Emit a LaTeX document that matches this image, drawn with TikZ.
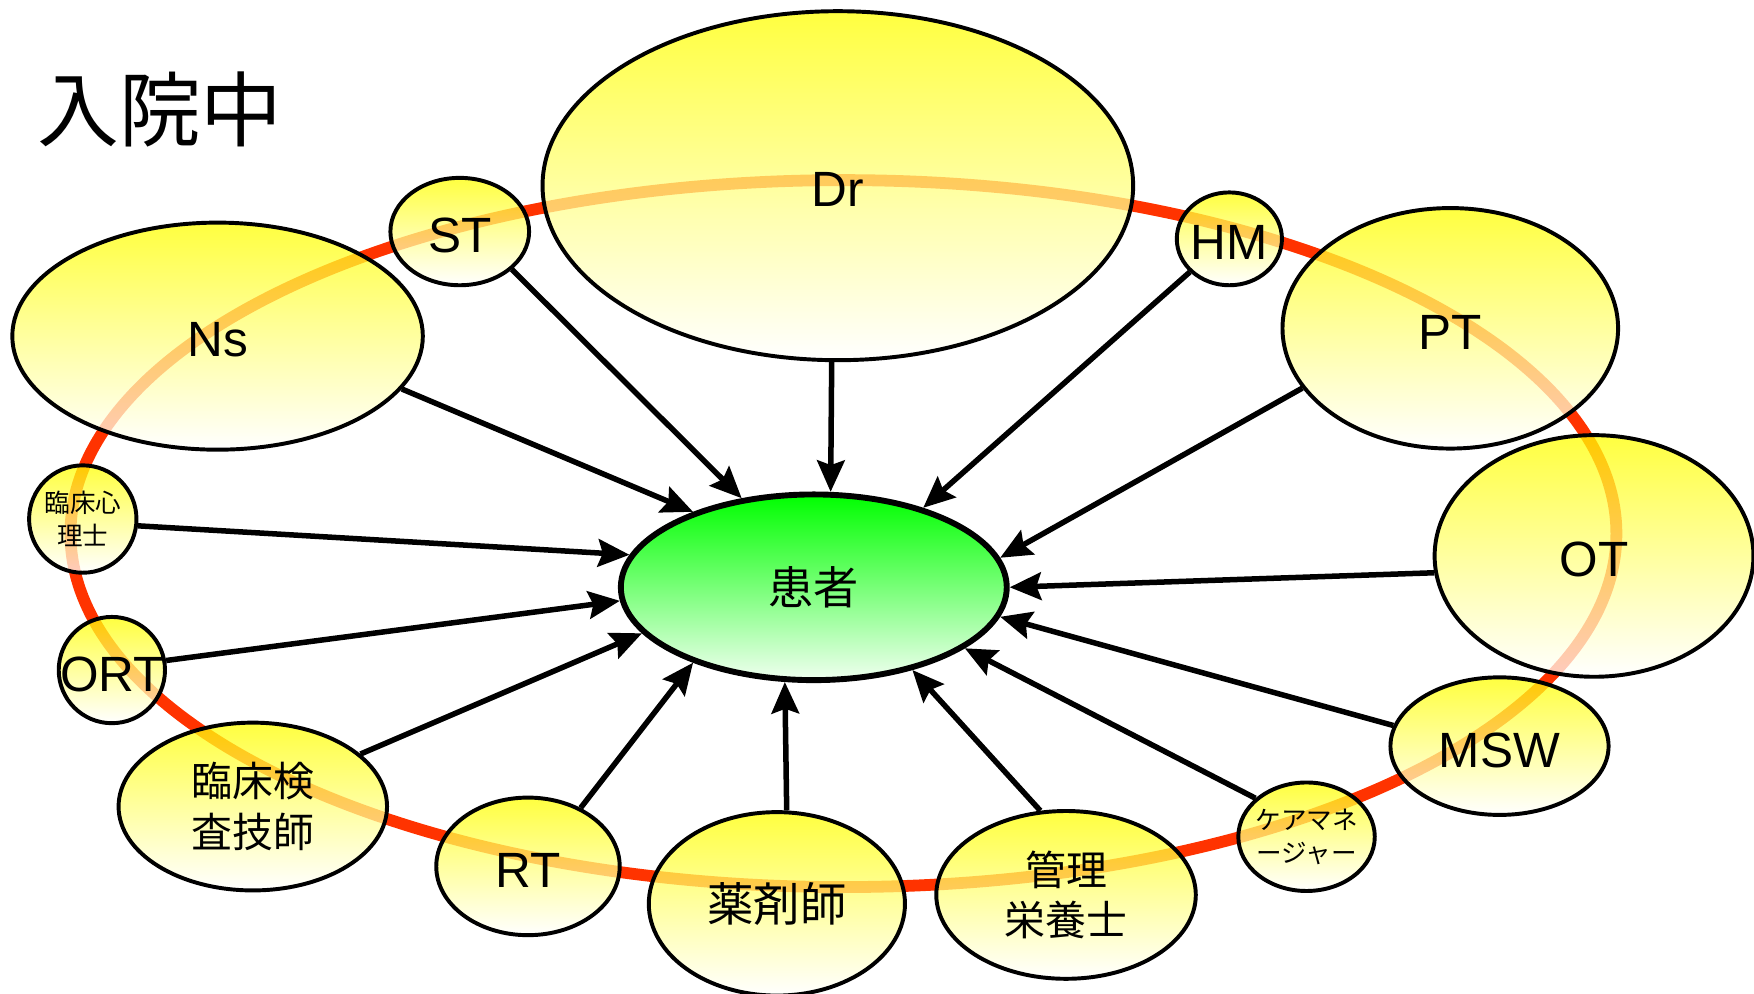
\documentclass[tikz,border=0pt]{standalone}
\usepackage{fontspec}
\setmainfont{Liberation Sans}
\newfontfamily\jpfont{Noto Sans CJK JP}
\usetikzlibrary{shapes.geometric,arrows.meta}

\definecolor{ringred}{RGB}{255,51,0}
\definecolor{kanjagreen}{RGB}{0,255,0}
\definecolor{kanjalight}{RGB}{240,255,240}

\tikzset{
  bub/.style={ellipse, draw, line width=1pt, top color=yellow, bottom color=white,
    fill opacity=0.75, draw opacity=1, inner sep=0pt},
  lbl/.style={font=\fontsize{12.6}{14}\selectfont, fill opacity=1, text opacity=1, inner sep=0pt, yshift=-0.35mm},
  jlbl/.style={font=\jpfont\fontsize{10.4}{12.8}\selectfont, align=center, fill opacity=1, text opacity=1, inner sep=0pt},
  slbl/.style={font=\jpfont\fontsize{6.5}{8.3}\selectfont, align=center, fill opacity=1, text opacity=1, inner sep=0pt},
  ring/.style={draw=ringred, line width=3pt},
  arr/.style={->, line width=1.4pt}
}

\begin{document}
\begin{tikzpicture}[x=0.1mm, y=-0.1mm, >={Stealth[length=8pt, width=7pt, inset=1.2pt]}]
  \useasboundingbox (0,0) rectangle (1568,888);

  \node[font=\jpfont\fontsize{20.8}{24}\selectfont] (title) at (143,98) {入院中};

  % ring behind the members
  \draw[ring] (754,477) ellipse [x radius=69.1mm, y radius=31.6mm];

  \node[bub, minimum width=52.8mm, minimum height=31.2mm, label={[lbl]center:Dr}] (dr) at (749,166) {};
  \node[bub, minimum width=12.4mm, minimum height=9.6mm, label={[lbl]center:ST}] (st) at (411,207) {};
  \node[bub, minimum width=36.7mm, minimum height=20.3mm, label={[lbl]center:Ns}] (ns) at (194.5,300.5) {};
  \node[bub, minimum width=9.4mm, minimum height=8.3mm, label={[lbl]center:HM}] (hm) at (1099,213.5) {};
  \node[bub, minimum width=30mm, minimum height=21.5mm, label={[lbl]center:PT}] (pt) at (1296.5,293.5) {};
  \node[bub, minimum width=28.5mm, minimum height=21.6mm, label={[lbl]center:OT}] (ot) at (1425,497) {};
  \node[bub, minimum width=19.5mm, minimum height=12.3mm, label={[lbl]center:MSW}] (msw) at (1340.5,667) {};
  \node[bub, minimum width=12.2mm, minimum height=9.7mm, label={[slbl]center:{ケアマネ\\ージャー}}] (care) at (1168,748) {};
  \node[bub, minimum width=23.2mm, minimum height=15mm, label={[jlbl]center:{管理\\栄養士}}] (kanri) at (953,800) {};
  \node[bub, minimum width=22.9mm, minimum height=16.4mm, label={[jlbl, font=\jpfont\fontsize{11.8}{14}\selectfont]center:薬剤師}] (yaku) at (694.5,808) {};
  \node[bub, minimum width=16.4mm, minimum height=12.3mm, label={[lbl]center:RT}] (rt) at (472,774.5) {};
  \node[bub, minimum width=24mm, minimum height=15mm, label={[jlbl]center:{臨床検\\査技師}}] (kensa) at (226,721) {};
  \node[bub, minimum width=9.5mm, minimum height=9.5mm, label={[lbl]center:ORT}] (ort) at (100,599) {};
  \node[bub, minimum width=9.6mm, minimum height=9.6mm, label={[slbl]center:{臨床心\\理士}}] (shinri) at (74,464) {};

  \node[ellipse, draw, line width=1.5pt, top color=kanjagreen, bottom color=kanjalight,
    minimum width=34.5mm, minimum height=16.6mm, inner sep=0pt,
    font=\jpfont\fontsize{11.5}{14}\selectfont] (kanja) at (727.5,525) {患者};

  \draw[arr] (ns.-16) to (kanja.148);
  \draw[arr] (st.-36) to (kanja.129);
  \draw[arr] (dr.-92) to (kanja.80);
  \draw[arr] (hm.220) to (kanja.36);
  \draw[arr] (pt.202) to (kanja.9);
  \draw[arr] (ot.186) to (kanja.0);
  \draw[arr] (msw.169) to (kanja.-9.5);
  \draw[arr] (care.143) to (kanja.-22);
  \draw[arr] (kanri.107) to (kanja.-40);
  \draw[arr] (yaku.84) to (kanja.-107);
  \draw[arr] (rt.48) to (kanja.212);
  \draw[arr] (kensa.26) to (kanja.195);
  \draw[arr] (ort.10) to (kanja.184.5);
  \draw[arr] (shinri.-7) to (kanja.170);
\end{tikzpicture}
\end{document}
